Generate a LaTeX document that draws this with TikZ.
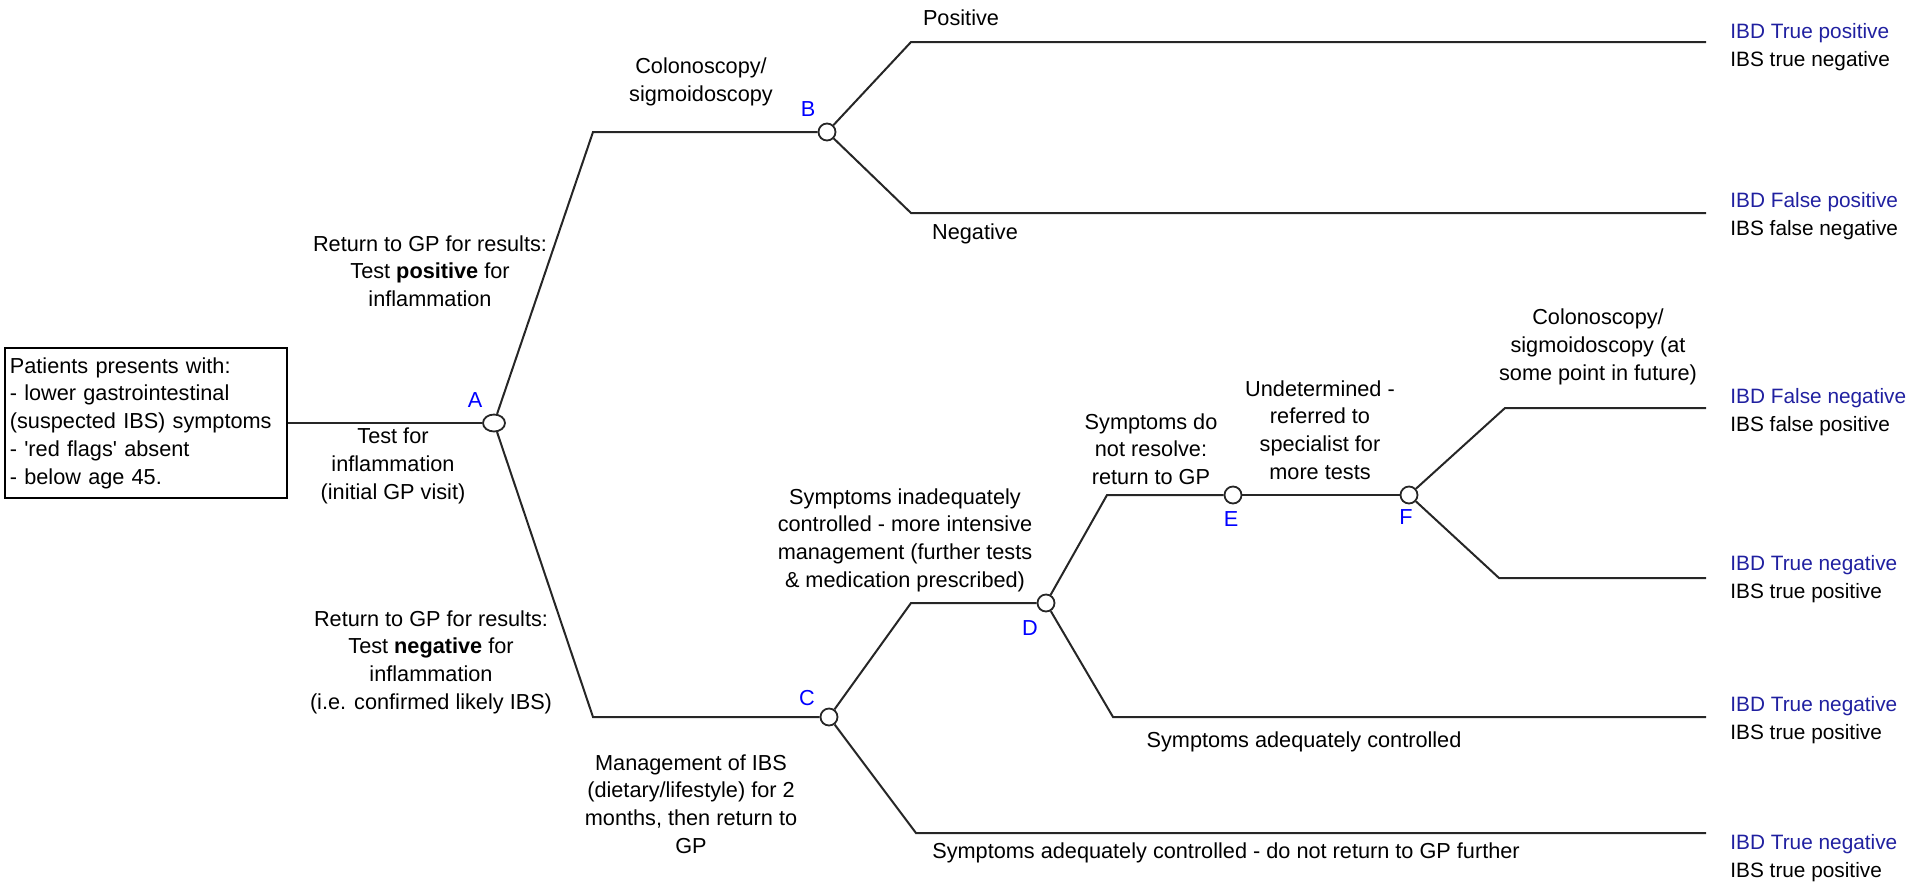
\documentclass[tikz,border=0pt]{standalone}
\usepackage{fontspec}
\setmainfont{Liberation Sans}
\usetikzlibrary{shapes.geometric}
\definecolor{lblblue}{RGB}{0,0,255}
\definecolor{ibdblue}{RGB}{32,32,160}
\begin{document}
\begin{tikzpicture}[x=0.5pt,y=-0.5pt,
  every node/.style={font=\fontsize{10.85pt}{13.85pt}\selectfont, inner sep=0pt},
  chance/.style={circle, draw=black!85, fill=white, line width=0.9pt, minimum size=8.5pt},
  branch/.style={draw=black!85, line width=1pt},
  lbl/.style={align=center},
  letter/.style={text=lblblue},
  outcome/.style={align=left, anchor=west, font=\fontsize{10.4pt}{13.85pt}\selectfont}
]
\useasboundingbox (0,0) rectangle (1910,885);

% start box
\node[draw=black, line width=0.9pt, align=left, text width=136pt, minimum height=75pt,
      inner xsep=2.5pt, anchor=west] (start) at (4,423)
  {Patients presents with:\\- lower gastrointestinal\\(suspected IBS) symptoms\\- {\textquotesingle}red flags{\textquotesingle} absent\\- below age 45.};

% chance nodes
\node[chance, ellipse, minimum width=11pt, minimum height=8.5pt] (A) at (494,423) {};
\node[chance] (B) at (827,132) {};
\node[chance] (C) at (829,717) {};
\node[chance] (D) at (1046,603) {};
\node[chance] (E) at (1233,495) {};
\node[chance] (F) at (1409,495) {};

% corner and end coordinates
\coordinate (a1) at (593,132);
\coordinate (a2) at (593,717);
\coordinate (b1) at (911,42);
\coordinate (b1e) at (1706,42);
\coordinate (b2) at (911,213);
\coordinate (b2e) at (1706,213);
\coordinate (c1) at (911,603);
\coordinate (c2) at (916,833);
\coordinate (c2e) at (1706,833);
\coordinate (d1) at (1107,495);
\coordinate (d2) at (1113,717);
\coordinate (d2e) at (1706,717);
\coordinate (f1) at (1505,408);
\coordinate (f1e) at (1706,408);
\coordinate (f2) at (1499,578);
\coordinate (f2e) at (1706,578);

% branches
\draw[branch] (start.east) -- (A);
\draw[branch] (A) -- (a1) -- (B);
\draw[branch] (A) -- (a2) -- (C);
\draw[branch] (B) -- (b1) -- (b1e);
\draw[branch] (B) -- (b2) -- (b2e);
\draw[branch] (C) -- (c1) -- (D);
\draw[branch] (C) -- (c2) -- (c2e);
\draw[branch] (D) -- (d1) -- (E);
\draw[branch] (D) -- (d2) -- (d2e);
\draw[branch] (E) -- (F);
\draw[branch] (F) -- (f1) -- (f1e);
\draw[branch] (F) -- (f2) -- (f2e);

% letters
\node[letter] (lA) at (475,400) {A};
\node[letter] (lB) at (808,109) {B};
\node[letter] (lC) at (807,698) {C};
\node[letter] (lD) at (1030,628) {D};
\node[letter] (lE) at (1231,519) {E};
\node[letter] (lF) at (1406,517) {F};

% branch labels
\node[lbl] (t1) at (393,466) {Test for\\inflammation\\(initial GP visit)};
\node[lbl] (t2) at (430,271) {Return to GP for results:\\Test \textbf{positive} for\\inflammation};
\node[lbl] (t3) at (701,82) {Colonoscopy/\\sigmoidoscopy};
\node[lbl] (t4) at (961,18) {Positive};
\node[lbl] (t5) at (975,234) {Negative};
\node[lbl] (t6) at (431,662) {Return to GP for results:\\Test \textbf{negative} for\\inflammation\\(i.e. confirmed likely IBS)};
\node[lbl] (t7) at (691,804) {Management of IBS\\(dietary/lifestyle) for 2\\months, then return to\\GP};
\node[lbl] (t8) at (905,540) {Symptoms inadequately\\controlled - more intensive\\management (further tests\\\& medication prescribed)};
\node[lbl] (t9) at (1226,853) {Symptoms adequately controlled - do not return to GP further};
\node[lbl] (t10) at (1151,449) {Symptoms do\\not resolve:\\return to GP};
\node[lbl] (t11) at (1320,430) {Undetermined -\\referred to\\specialist for\\more tests};
\node[lbl] (t12) at (1598,347) {Colonoscopy/\\sigmoidoscopy (at\\some point in future)};
\node[lbl] (t13) at (1304,742) {Symptoms adequately controlled};

% outcomes
\node[outcome] (o1) at (1730,47) {{\color{ibdblue}IBD True positive}\\IBS true negative};
\node[outcome] (o2) at (1730,216) {{\color{ibdblue}IBD False positive}\\IBS false negative};
\node[outcome] (o3) at (1730,412) {{\color{ibdblue}IBD False negative}\\IBS false positive};
\node[outcome] (o4) at (1730,579) {{\color{ibdblue}IBD True negative}\\IBS true positive};
\node[outcome] (o5) at (1730,720) {{\color{ibdblue}IBD True negative}\\IBS true positive};
\node[outcome] (o6) at (1730,858) {{\color{ibdblue}IBD True negative}\\IBS true positive};
\end{tikzpicture}
\end{document}
